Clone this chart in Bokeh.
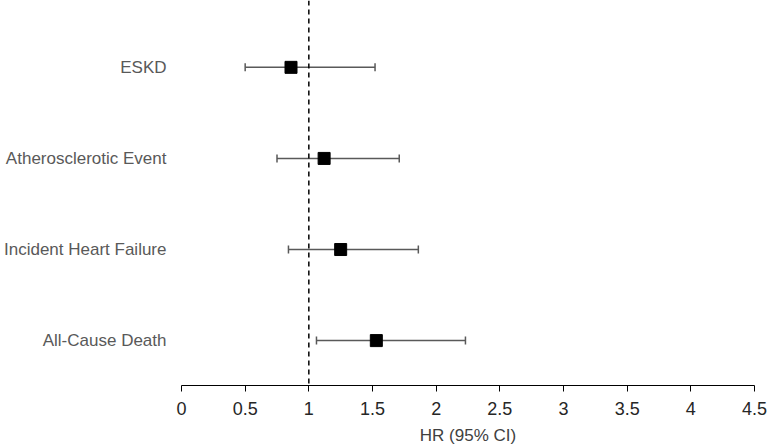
from bokeh.plotting import figure
from bokeh.models import Range1d, FixedTicker, Span, Whisker, ColumnDataSource, TeeHead
from bokeh.embed import file_html
from bokeh.resources import INLINE

outcomes = ["All-Cause Death", "Incident Heart Failure", "Atherosclerotic Event", "ESKD"]
hr = [1.53, 1.25, 1.12, 0.86]
ci_low = [1.06, 0.84, 0.75, 0.50]
ci_high = [2.23, 1.86, 1.71, 1.52]
x_ticks = [0, 0.5, 1, 1.5, 2, 2.5, 3, 3.5, 4, 4.5]

ypos = list(range(1, len(outcomes) + 1))
src = ColumnDataSource(dict(y=ypos, hr=hr, lo=ci_low, hi=ci_high, name=outcomes))

p = figure(width=768, height=447, output_backend="svg", toolbar_location=None,
           x_range=Range1d(0, 4.5), y_range=Range1d(0.507, 4.734),
           min_border_left=180, min_border_right=14, min_border_top=0, min_border_bottom=61)
p.outline_line_color = None
p.xgrid.visible = False
p.ygrid.visible = False

p.add_layout(Span(location=1, dimension="height", line_color="black",
                  line_width=1.5, line_dash="5 4"))

w = Whisker(source=src, base="y", lower="lo", upper="hi", dimension="width",
            line_color="#595959", line_width=1.5,
            lower_head=TeeHead(size=8, line_color="#595959", line_width=1.5),
            upper_head=TeeHead(size=8, line_color="#595959", line_width=1.5))
p.add_layout(w)

p.scatter("hr", "y", source=src, marker="square", size=12, fill_color="black", line_color="black")

xa = p.xaxis[0]
xa.ticker = FixedTicker(ticks=x_ticks)
xa.major_label_overrides = {t: ("%g" % t) for t in x_ticks}
xa.minor_tick_line_color = None
xa.major_tick_out = 6
xa.major_tick_in = 0
xa.axis_line_color = "black"
xa.axis_line_width = 1.2
xa.major_tick_line_color = "black"
xa.major_label_text_font = "Liberation Sans"
xa.major_label_text_font_size = "18px"
xa.major_label_text_color = "#262626"
xa.major_label_standoff = 10
xa.axis_label = "HR (95% CI)"
xa.axis_label_text_font = "Liberation Sans"
xa.axis_label_text_font_size = "17px"
xa.axis_label_text_font_style = "normal"
xa.axis_label_text_color = "#404040"
xa.axis_label_standoff = 8

ya = p.yaxis[0]
ya.ticker = FixedTicker(ticks=ypos)
ya.major_label_overrides = {y: n for y, n in zip(ypos, outcomes)}
ya.axis_line_color = None
ya.major_tick_line_color = None
ya.minor_tick_line_color = None
ya.major_tick_out = 0
ya.major_tick_in = 0
ya.minor_tick_out = 0
ya.minor_tick_in = 0
ya.major_label_text_font = "Liberation Sans"
ya.major_label_text_font_size = "17px"
ya.major_label_text_color = "#595959"
ya.major_label_standoff = 15

open("out.html", "w").write(file_html(p, INLINE))
